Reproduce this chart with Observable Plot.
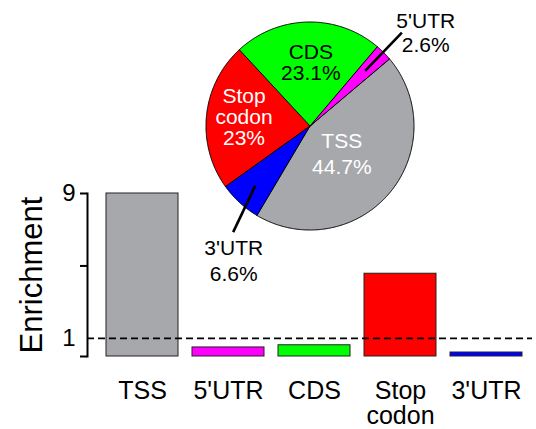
<!DOCTYPE html>
<html><head><meta charset="utf-8">
<script src="https://cdn.jsdelivr.net/npm/d3@7"></script>
<script src="https://cdn.jsdelivr.net/npm/@observablehq/plot@0.6"></script>
<style>
body{margin:0;background:#fff;}
#wrap{position:relative;width:536px;height:429px;font-family:"Liberation Sans",Arial,sans-serif;}
#bar{position:absolute;left:0;top:0;}
#pie{position:absolute;left:180px;top:0;}
svg{overflow:visible;}
</style></head><body><div id="wrap"><div id="bar"></div><div id="pie"></div></div>
<script>
// ---- data ----
const categories = ["TSS", "5'UTR", "CDS", "Stop\ncodon", "3'UTR"];
const enrichment = [9, 0.5, 0.62, 4.57, 0.22];
const piePercent = [44.7, 2.6, 23.1, 23, 6.6];
const colors = ["#a7a8ac", "#ff00ff", "#00ff00", "#ff0000", "#0000ff"];
const yTickLabels = [1, 9];
const yTickMarks = [0, 5, 9];
const threshold = [1];
const pieOrder = ["TSS", "3'UTR", "Stop\ncodon", "CDS", "5'UTR"];

const font = "Liberation Sans, Arial, sans-serif";

// ---- bar chart ----
const bars = categories.map((c, i) => ({cat: c, value: enrichment[i]}));
const barPlot = Plot.plot({
  width: 536, height: 429,
  marginLeft: 87, marginRight: 0, marginTop: 193, marginBottom: 73,
  style: {fontFamily: font, background: "transparent", color: "black"},
  x: {domain: categories, paddingInner: 0.164, paddingOuter: 0.17, align: 0.56, axis: null, label: null},
  y: {domain: [0, 9], axis: null, label: null},
  color: {domain: categories, range: colors},
  marks: [
    Plot.barY(bars, {x: "cat", y: "value", fill: "cat", stroke: "#222", strokeWidth: 1}),
    Plot.ruleY(threshold, {stroke: "black", strokeWidth: 1.8, strokeDasharray: "7,4", insetRight: 4}),
    Plot.frame({anchor: "left", stroke: "black", strokeWidth: 2}),
    Plot.axisY(yTickMarks, {tickSize: 7, tickFormat: () => "", strokeWidth: 2, stroke: "black", label: null}),
    Plot.axisY(yTickLabels, {tickSize: 0, tickPadding: 12, fontSize: 24, fill: "black", label: null}),
    Plot.axisX({tickSize: 0, tickPadding: 25, fontSize: 25, lineHeight: 1, fill: "black", label: null}),
    Plot.text(["Enrichment"], {frameAnchor: "left", rotate: -90, dx: -46, fontSize: 31, textAnchor: "middle", lineAnchor: "bottom", fill: "black"})
  ]
});
document.getElementById("bar").appendChild(barPlot);

// ---- pie chart ----
const deg = Math.PI / 180;
const startAngle = 49.7 * deg;
const slices = pieOrder.map(name => {
  const i = categories.indexOf(name);
  return {name, pct: piePercent[i], color: colors[i]};
});
const arcs = d3.pie().sort(null).value(d => d.pct)
  .startAngle(startAngle).endAngle(startAngle + 2 * Math.PI)(slices);

const polar = (a, r) => ({x: Math.sin(a) * r, y: Math.cos(a) * r});

const W = 290, CX = 129.5, CY = 125.5, R = 104;

// layout (positions/styles of labels)
const labelLayout = {
  "TSS":        {r: 0.40, da: 0,    lh: 1.24, fill: "white"},
  "CDS":        {r: 0.61, da: 2,    lh: 1.0, fill: "black"},
  "Stop\ncodon":{r: 0.64, da: 1.8,  lh: 1.0, fill: "white"},
  "5'UTR":      {r: 1.434, da: 5.9, lh: 1.15, fill: "black", lead: [0.75, 0, 1.26, -0.5]},
  "3'UTR":      {r: 1.48, da: -12.8, lh: 1.24, fill: "black", lead: [0.78, 0, 1.26, -6.6]}
};

const pieMarks = [];
for (const a of arcs) {
  const n = Math.max(2, Math.ceil((a.endAngle - a.startAngle) / (0.5 * deg)) + 1);
  const pts = [{x: 0, y: 0}];
  for (let k = 0; k < n; k++) {
    pts.push(polar(a.startAngle + (a.endAngle - a.startAngle) * k / (n - 1), 1));
  }
  pieMarks.push(Plot.line(pts, {x: "x", y: "y", fill: a.data.color, stroke: "black", strokeWidth: 1, curve: "linear-closed", strokeLinejoin: "round"}));
}
for (const a of arcs) {
  const L = labelLayout[a.data.name];
  const mid = (a.startAngle + a.endAngle) / 2;
  if (L.lead) {
    const p0 = polar(mid + L.lead[1] * deg, L.lead[0]);
    const p1 = polar(mid + L.lead[3] * deg, L.lead[2]);
    pieMarks.push(Plot.link([{x1: p0.x, y1: p0.y, x2: p1.x, y2: p1.y}], {x1: "x1", y1: "y1", x2: "x2", y2: "y2", stroke: "black", strokeWidth: 2.6}));
  }
  const p = polar(mid + L.da * deg, L.r);
  pieMarks.push(Plot.text([{x: p.x, y: p.y, t: a.data.name + "\n" + a.data.pct + "%"}],
    {x: "x", y: "y", text: "t", fill: L.fill, fontSize: 21, lineHeight: L.lh, textAnchor: "middle", lineAnchor: "middle"}));
}

const piePlot = Plot.plot({
  width: W, height: W, margin: 0,
  style: {fontFamily: font, background: "transparent", overflow: "visible"},
  x: {domain: [-CX / R, (W - CX) / R], axis: null},
  y: {domain: [-(W - CY) / R, CY / R], axis: null},
  marks: pieMarks
});
document.getElementById("pie").appendChild(piePlot);
</script>
</body></html>
